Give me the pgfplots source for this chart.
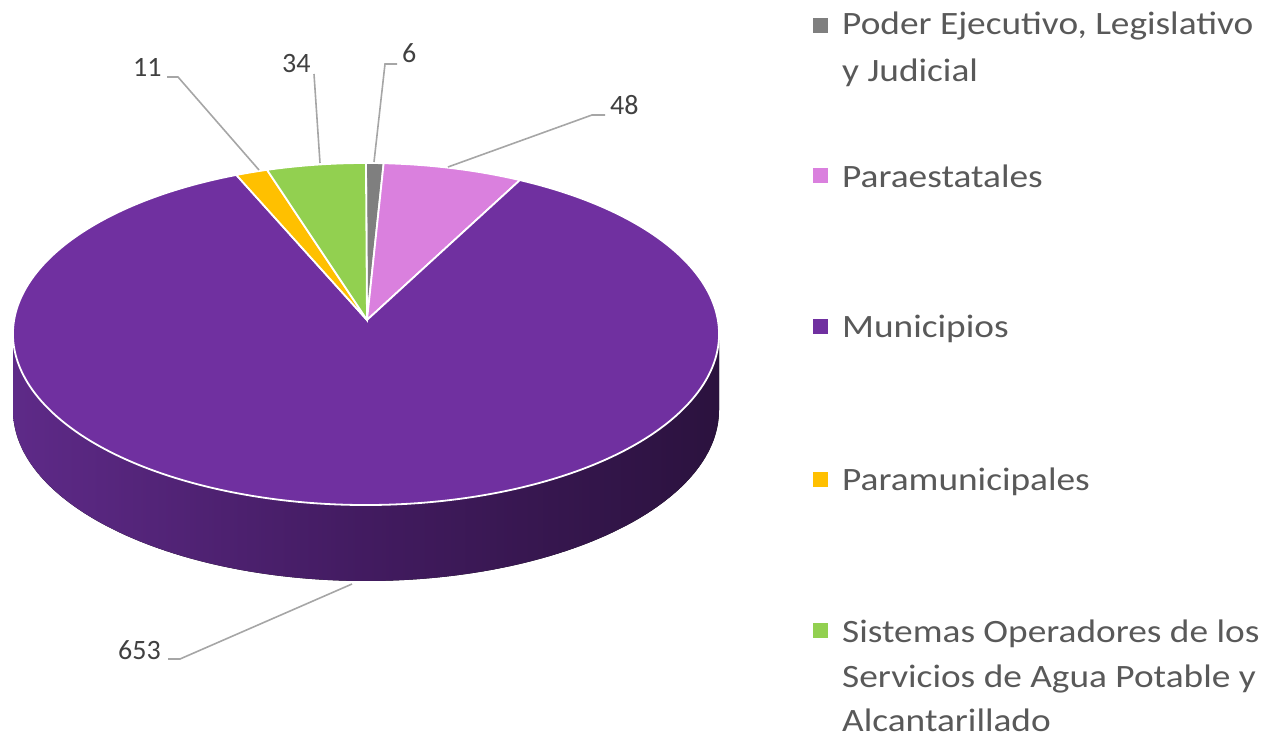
\documentclass[border=0pt]{standalone}
\usepackage{graphicx}
\usepackage{pgfplots}
\pgfplotsset{compat=1.18}
\usepackage{fontspec}
\setmainfont{Carlito}
\definecolor{cPoder}{HTML}{7F7F7F}
\definecolor{cPara}{HTML}{DA80DE}
\definecolor{cMun}{HTML}{7030A0}
\definecolor{cParam}{HTML}{FFC000}
\definecolor{cSis}{HTML}{92D050}
\definecolor{sideL}{RGB}{94,42,136}
\definecolor{sideM}{RGB}{66,27,96}
\definecolor{sideR}{RGB}{43,18,62}
\definecolor{legtxt}{HTML}{595959}
\definecolor{labtxt}{HTML}{404040}
\definecolor{leader}{HTML}{A6A6A6}
% data values
\def\vA{6}\def\vB{48}\def\vC{653}\def\vD{11}\def\vE{34}
\newcommand\LT[1]{\scalebox{1.145}[1]{#1}}
\tikzset{lab/.style={anchor=base west,inner sep=0pt,text=labtxt,font=\fontsize{28}{34}\selectfont},
  leg/.style={anchor=base west,inner sep=0pt,text=legtxt,font=\fontsize{32.6}{45}\selectfont}}
\begin{document}
\begin{tikzpicture}
\pgfmathsetmacro\tot{\vA+\vB+\vC+\vD+\vE}
\pgfmathsetmacro\aA{90}
\pgfmathsetmacro\aB{\aA-\vA/\tot*360}
\pgfmathsetmacro\aC{\aB-\vB/\tot*360}
\pgfmathsetmacro\aD{\aC-\vC/\tot*360}
\pgfmathsetmacro\aE{\aD-\vD/\tot*360}
\pgfmathsetmacro\aF{\aE-\vE/\tot*360}
\begin{axis}[width=1273pt,height=738pt,scale only axis,at={(0,0)},anchor=south west,
  xmin=0,xmax=1273,ymin=0,ymax=738,hide axis,clip=false]
% side wall
\fill[left color=sideL,right color=sideR,middle color=sideM]
  (axis cs:13,404) arc[start angle=180,end angle=360,x radius=353,y radius=171]
  -- (axis cs:719,328) arc[start angle=0,end angle=-180,x radius=353,y radius=171] -- cycle;
% top slices
\fill[cPoder,draw=white,line width=1.8pt] (axis cs:367,418) -- (axis cs:{366+353*cos(\aA)},{404+171*sin(\aA)})
  arc[start angle=\aA,end angle=\aB,x radius=353,y radius=171] -- cycle;
\fill[cPara,draw=white,line width=1.8pt] (axis cs:367,418) -- (axis cs:{366+353*cos(\aB)},{404+171*sin(\aB)})
  arc[start angle=\aB,end angle=\aC,x radius=353,y radius=171] -- cycle;
\fill[cMun,draw=white,line width=1.8pt] (axis cs:367,418) -- (axis cs:{366+353*cos(\aC)},{404+171*sin(\aC)})
  arc[start angle=\aC,end angle=\aD,x radius=353,y radius=171] -- cycle;
\fill[cParam,draw=white,line width=1.8pt] (axis cs:367,418) -- (axis cs:{366+353*cos(\aD)},{404+171*sin(\aD)})
  arc[start angle=\aD,end angle=\aE,x radius=353,y radius=171] -- cycle;
\fill[cSis,draw=white,line width=1.8pt] (axis cs:367,418) -- (axis cs:{366+353*cos(\aE)},{404+171*sin(\aE)})
  arc[start angle=\aE,end angle=\aF,x radius=353,y radius=171] -- cycle;
% leader lines
\draw[leader,line width=1.6pt] (axis cs:397,674) -- (axis cs:385,674) -- (axis cs:374,576);
\draw[leader,line width=1.6pt] (axis cs:605,623) -- (axis cs:592,623) -- (axis cs:448,571);
\draw[leader,line width=1.6pt] (axis cs:314,664) -- (axis cs:320,575);
\draw[leader,line width=1.6pt] (axis cs:167,661) -- (axis cs:178,661) -- (axis cs:259,568);
\draw[leader,line width=1.6pt] (axis cs:168,79) -- (axis cs:180,79) -- (axis cs:352,154);
% data labels
\node[lab] at (axis cs:402,675) {\vA};
\node[lab] at (axis cs:610,623) {\vB};
\node[lab] at (axis cs:118,78) {\vC};
\node[lab] at (axis cs:133,661) {\vD};
\node[lab] at (axis cs:282,665) {\vE};
% legend
\fill[cPoder] (axis cs:813,705) rectangle (axis cs:828,720);
\node[leg] at (axis cs:842,703) {\LT{Poder Ejecutivo, Legislativo}};
\node[leg] at (axis cs:842,656) {\LT{y Judicial}};
\fill[cPara] (axis cs:813,555) rectangle (axis cs:828,570);
\node[leg] at (axis cs:842,550) {\LT{Paraestatales}};
\fill[cMun] (axis cs:813,404) rectangle (axis cs:828,419);
\node[leg] at (axis cs:842,400) {\LT{Municipios}};
\fill[cParam] (axis cs:813,251) rectangle (axis cs:828,266);
\node[leg] at (axis cs:842,247) {\LT{Paramunicipales}};
\fill[cSis] (axis cs:813,100) rectangle (axis cs:828,115);
\node[leg] at (axis cs:842,95) {\LT{Sistemas Operadores de los}};
\node[leg] at (axis cs:842,50) {\LT{Servicios de Agua Potable y}};
\node[leg] at (axis cs:842,6) {\LT{Alcantarillado}};
\end{axis}
\pgfresetboundingbox
\useasboundingbox (0,0) rectangle (1273pt,738pt);
\end{tikzpicture}
\end{document}
